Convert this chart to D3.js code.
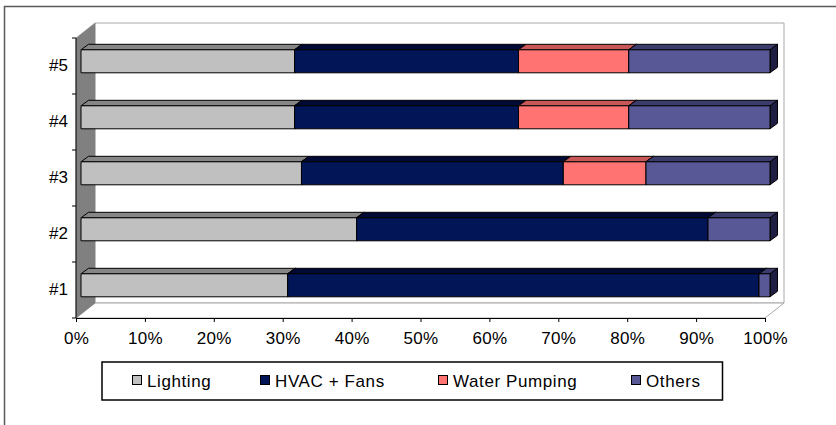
<!DOCTYPE html>
<html>
<head>
<meta charset="utf-8">
<script src="https://cdn.jsdelivr.net/npm/d3@7"></script>
<style>
  html, body { margin: 0; padding: 0; background: #fff; }
  svg { display: block; font-family: "Liberation Sans", Arial, sans-serif; }
</style>
</head>
<body>
<svg id="chart" width="836" height="425"></svg>
<script>
// Share of consumption by end use for five buildings (100% stacked)
const categories = ["#1", "#2", "#3", "#4", "#5"];
const seriesNames = ["Lighting", "HVAC + Fans", "Water Pumping", "Others"];
const lighting = [30, 40, 32, 31, 31];
const hvacFans = [68.4, 51, 38, 32.5, 32.5];
const waterPumping = [0, 0, 12, 16, 16];
const others = [1.6, 9, 18, 20.5, 20.5];
const xTicks = [0, 10, 20, 30, 40, 50, 60, 70, 80, 90, 100];

const frontColors = ["#C0C0C0", "#011557", "#FF7373", "#585896"];
const topColors = ["#868686", "#000a34", "#c85858", "#3c3c6c"];
const sideColors = ["#5e5e5e", "#00072a", "#8e3c3c", "#1e1e42"];

const rows = categories.map((c, i) => ({
  cat: c,
  "Lighting": lighting[i],
  "HVAC + Fans": hvacFans[i],
  "Water Pumping": waterPumping[i],
  "Others": others[i]
}));
const stacked = d3.stack().keys(seriesNames)(rows);

const svg = d3.select("#chart");

// outer chart frame
svg.append("rect")
  .attr("x", 4.5).attr("y", 6.5).attr("width", 900).attr("height", 500)
  .attr("fill", "none").attr("stroke", "#5a5a5a").attr("stroke-width", 1.5);

// plot geometry (front plane + 3D depth)
const x = d3.scaleLinear().domain([0, 100]).range([76, 765]);
const y = d3.scaleBand().domain(categories).range([318, 38]);
const depth = { dx: 19, dy: -15 };
const barFront = { dx: 5, dy: -4.7 };
const barDepth = { dx: 7.5, dy: -5.5 };
const barH = 23;

const x0 = x.range()[0], x1 = x.range()[1];
const yTop = 38, yBot = 318;
const poly = pts => "M" + pts.map(p => p.join(",")).join("L") + "Z";

// back wall
svg.append("path")
  .attr("d", poly([[x0 + depth.dx, yTop + depth.dy], [x1 + depth.dx, yTop + depth.dy],
                   [x1 + depth.dx, yBot + depth.dy], [x0 + depth.dx, yBot + depth.dy]]))
  .attr("fill", "#fff").attr("stroke", "#a8a8a8").attr("stroke-width", 1);

// floor
svg.append("path")
  .attr("d", poly([[x0, yBot], [x0 + depth.dx, yBot + depth.dy],
                   [x1 + depth.dx, yBot + depth.dy], [x1, yBot]]))
  .attr("fill", "#fff").attr("stroke", "#a8a8a8").attr("stroke-width", 1);

// side wall
svg.append("path")
  .attr("d", poly([[x0, yTop], [x0 + depth.dx, yTop + depth.dy],
                   [x0 + depth.dx, yBot + depth.dy], [x0, yBot]]))
  .attr("fill", "#808080").attr("stroke", "#808080").attr("stroke-width", 0.5);

// bars
const barsG = svg.append("g");
stacked.forEach((layer, si) => {
  layer.forEach(d => {
    if (d[1] - d[0] <= 0) return;
    const cat = d.data.cat;
    const cy = y(cat) + y.bandwidth() / 2 + barFront.dy;
    const t = cy - barH / 2, b = cy + barH / 2;
    const l = x(d[0]) + barFront.dx, r = x(d[1]) + barFront.dx;
    const g = barsG.append("g").attr("stroke", "#000").attr("stroke-width", 1)
      .attr("stroke-linejoin", "round");
    g.append("path")
      .attr("d", poly([[l, t], [l + barDepth.dx, t + barDepth.dy],
                       [r + barDepth.dx, t + barDepth.dy], [r, t]]))
      .attr("fill", topColors[si]);
    g.append("path")
      .attr("d", poly([[r, t], [r + barDepth.dx, t + barDepth.dy],
                       [r + barDepth.dx, b + barDepth.dy], [r, b]]))
      .attr("fill", sideColors[si]);
    g.append("rect")
      .attr("x", l).attr("y", t).attr("width", r - l).attr("height", barH)
      .attr("fill", frontColors[si]);
  });
});

// category axis: boundary ticks, labels centred in bands
const yAxis = svg.append("g").attr("transform", `translate(${x0},0)`)
  .call(d3.axisLeft(y).tickSize(0).tickPadding(8));
yAxis.select(".domain").remove();
yAxis.selectAll("text").attr("font-size", 17).attr("font-family", "Liberation Sans, Arial, sans-serif")
  .attr("fill", "#000");
const edges = categories.map(c => y(c)).concat([yBot]);
svg.append("g").selectAll("line").data(edges).join("line")
  .attr("x1", x0 - 4).attr("x2", x0).attr("y1", d => d).attr("y2", d => d)
  .attr("stroke", "#000").attr("stroke-width", 1);
svg.append("line").attr("x1", x0).attr("x2", x0).attr("y1", yTop).attr("y2", yBot)
  .attr("stroke", "#000").attr("stroke-width", 1);

// value axis
const xAxis = svg.append("g").attr("transform", `translate(0,${yBot})`)
  .call(d3.axisBottom(x).tickValues(xTicks).tickFormat(d => d + "%").tickSize(4).tickPadding(10).tickSizeOuter(0));
xAxis.select(".domain").attr("stroke", "#000");
xAxis.selectAll(".tick line").attr("stroke", "#000");
xAxis.selectAll("text").attr("font-size", 17).attr("font-family", "Liberation Sans, Arial, sans-serif")
  .attr("fill", "#000").attr("letter-spacing", "0.3px");

// legend
const legend = svg.append("g");
legend.append("rect")
  .attr("x", 102).attr("y", 362).attr("width", 620.5).attr("height", 38)
  .attr("fill", "#fff").attr("stroke", "#000").attr("stroke-width", 1.5);
const legendX = [132, 260, 438, 631];
const items = legend.selectAll("g.item").data(seriesNames).join("g")
  .attr("class", "item")
  .attr("transform", (d, i) => `translate(${legendX[i]},0)`);
items.append("rect")
  .attr("x", 0.5).attr("y", 375.5).attr("width", 9).attr("height", 9)
  .attr("fill", (d, i) => frontColors[i]).attr("stroke", "#000").attr("stroke-width", 1);
items.append("text")
  .attr("x", 15).attr("y", 387).attr("font-size", 17).attr("fill", "#000")
  .attr("letter-spacing", "0.6px")
  .text(d => d);
</script>
</body>
</html>
